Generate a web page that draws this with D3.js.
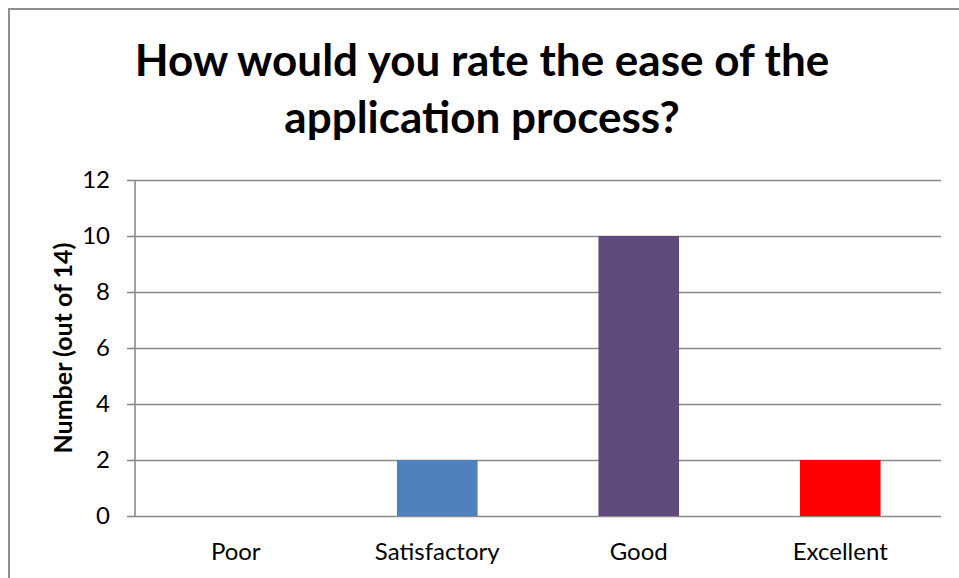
<!DOCTYPE html>
<html>
<head>
<meta charset="utf-8">
<script src="https://cdn.jsdelivr.net/npm/d3@7"></script>
<style>
  body { margin: 0; background: #fff; }
  svg { display: block; }
</style>
</head>
<body>
<div id="chart"></div>
<script>
const categories = ["Poor", "Satisfactory", "Good", "Excellent"];
const counts = [0, 2, 10, 2];
const barColors = ["#4F81BD", "#4F81BD", "#604A7B", "#FF0000"];
const yTicks = [0, 2, 4, 6, 8, 10, 12];
const titleLines = ["How would you rate the ease of the", "application process?"];
const yTitle = "Number (out of 14)";

const width = 959, height = 578;
const plot = { left: 135, right: 941, top: 180, bottom: 516 };
const gridColor = "#8a8a8a";
const font = "Lato, 'Open Sans', sans-serif";

const svg = d3.select("#chart").append("svg")
    .attr("width", width)
    .attr("height", height);

// chart area frame (only top and left are inside the picture)
svg.append("rect")
    .attr("x", 9).attr("y", 9)
    .attr("width", width + 10).attr("height", height + 10)
    .attr("fill", "#fff")
    .attr("stroke", "#8f8f8f")
    .attr("stroke-width", 2);

const x = d3.scaleBand()
    .domain(categories)
    .range([plot.left, plot.right])
    .paddingInner(0.6)
    .paddingOuter(0.3);

const y = d3.scaleLinear()
    .domain([0, 12])
    .range([plot.bottom, plot.top]);

// gridlines + y axis
const yAxis = svg.append("g")
    .attr("transform", `translate(${plot.left},0)`)
    .call(d3.axisLeft(y)
        .tickValues(yTicks)
        .tickSize(8)
        .tickPadding(17));
yAxis.select(".domain").remove();
yAxis.selectAll(".tick line")
    .attr("stroke", gridColor)
    .attr("stroke-width", 1.6)
    .attr("x2", -8)
    .clone()
    .attr("x1", 0)
    .attr("x2", plot.right - plot.left);
yAxis.selectAll(".tick text")
    .attr("fill", "#000")
    .style("font-family", font)
    .style("font-size", "24px");

svg.append("line")
    .attr("x1", plot.left).attr("x2", plot.left)
    .attr("y1", plot.top).attr("y2", plot.bottom)
    .attr("stroke", gridColor)
    .attr("stroke-width", 1.6);

// bars
svg.append("g")
    .selectAll("rect")
    .data(categories)
    .join("rect")
    .attr("x", d => x(d))
    .attr("width", x.bandwidth())
    .attr("y", (d, i) => y(counts[i]))
    .attr("height", (d, i) => y(0) - y(counts[i]))
    .attr("fill", (d, i) => barColors[i]);

// category labels
svg.append("g")
    .selectAll("text")
    .data(categories)
    .join("text")
    .attr("x", d => x(d) + x.bandwidth() / 2)
    .attr("y", 560)
    .attr("text-anchor", "middle")
    .style("font-family", font)
    .style("font-size", "24px")
    .text(d => d);

// title
svg.append("g")
    .selectAll("text")
    .data(titleLines)
    .join("text")
    .attr("x", 482)
    .attr("y", (d, i) => 76 + i * 57)
    .attr("text-anchor", "middle")
    .style("font-family", font)
    .style("font-weight", "bold")
    .style("font-size", "44px")
    .text(d => d);

// y axis title
svg.append("text")
    .attr("transform", `translate(72,${(plot.top + plot.bottom) / 2}) rotate(-90)`)
    .attr("text-anchor", "middle")
    .style("font-family", font)
    .style("font-weight", "bold")
    .style("font-size", "25px")
    .text(yTitle);
</script>
</body>
</html>
